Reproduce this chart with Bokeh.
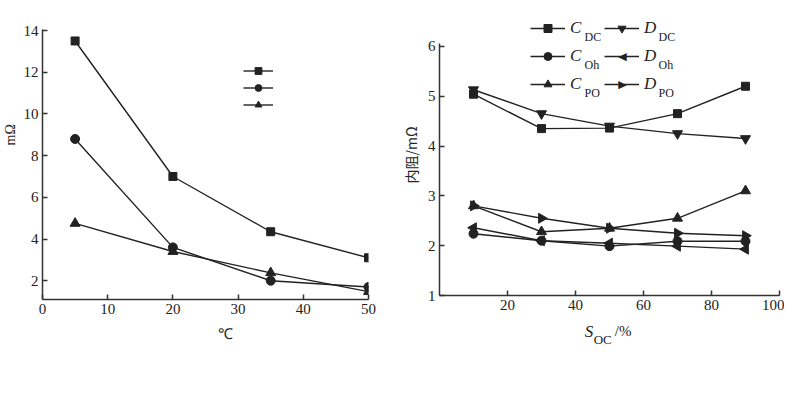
from bokeh.plotting import figure
from bokeh.layouts import row
from bokeh.models import FixedTicker, Range1d, Legend, LegendItem, Label, LinearAxis
from bokeh.embed import file_html
from bokeh.resources import INLINE

# ---------------- data: left chart (temperature) ----------------
temps = [5, 20, 35, 50]
r_square = [13.5, 7.0, 4.35, 3.1]
r_circle = [8.8, 3.6, 2.0, 1.7]
r_triangle = [4.75, 3.4, 2.38, 1.48]
left_xticks = [0, 10, 20, 30, 40, 50]
left_yticks = [2, 4, 6, 8, 10, 12, 14]

# ---------------- data: right chart (SOC) ----------------
soc = [10, 30, 50, 70, 90]
c_dc = [5.04, 4.35, 4.36, 4.65, 5.2]
d_dc = [5.13, 4.65, 4.4, 4.25, 4.15]
c_oh = [2.24, 2.1, 1.99, 2.09, 2.09]
d_oh = [2.36, 2.1, 2.05, 1.99, 1.93]
c_po = [2.8, 2.28, 2.35, 2.55, 3.1]
d_po = [2.8, 2.55, 2.35, 2.25, 2.2]
right_xticks = [20, 40, 60, 80, 100]
right_yticks = [1, 2, 3, 4, 5, 6]

INK = "#222222"
SERIF = "'Liberation Serif', serif"


def style(p):
    p.outline_line_color = None
    p.xgrid.visible = False
    p.ygrid.visible = False
    for ax in (p.xaxis[0], p.yaxis[0]):
        ax.axis_line_color = "#333333"
        ax.axis_line_width = 1.5
        ax.major_tick_in = 5
        ax.major_tick_out = 0
        ax.minor_tick_in = 0
        ax.minor_tick_out = 0
        ax.major_tick_line_color = "#333333"
        ax.major_tick_line_width = 1.5
        ax.major_label_text_font = SERIF
        ax.major_label_text_font_size = "15px"
        ax.major_label_text_color = INK
        ax.axis_label_text_font_style = "normal"
        ax.axis_label_text_color = INK
        ax.major_label_standoff = 4


def text_axis(p, side, pos, text, size, style_, standoff, font=SERIF, orientation="horizontal"):
    """An axis without line or ticks that only carries one piece of title text."""
    ax = LinearAxis(ticker=FixedTicker(ticks=[pos]), major_label_overrides={pos: text},
                    axis_line_color=None, major_tick_line_color=None,
                    minor_tick_line_color=None, major_tick_in=0, major_tick_out=0,
                    major_label_text_font=font, major_label_text_font_size=size,
                    major_label_text_font_style=style_, major_label_text_color=INK,
                    major_label_standoff=standoff, major_label_orientation=orientation)
    p.add_layout(ax, side)


# ---------------- left figure ----------------
p1 = figure(frame_width=326, frame_height=270, output_backend="svg", toolbar_location=None,
            x_range=Range1d(0, 50), y_range=Range1d(1.1, 14.05), frame_align=False,
            min_border_left=34, min_border_right=18, min_border_top=29, min_border_bottom=68)
style(p1)
p1.xaxis.ticker = FixedTicker(ticks=left_xticks)
p1.yaxis.ticker = FixedTicker(ticks=left_yticks)
# axis titles (placed off-centre as in the original)
text_axis(p1, "below", 28, "℃", "15px", "normal", 9)
text_axis(p1, "left", 9, "mΩ", "14px", "normal", 2, orientation="vertical")

items1 = []
for ys, mk, sz in ((r_square, "square", 8), (r_circle, "circle", 9), (r_triangle, "triangle", 10)):
    l = p1.line(temps, ys, line_color=INK, line_width=1.4)
    s = p1.scatter(temps, ys, marker=mk, size=sz, fill_color=INK, line_color=INK)
    items1.append(LegendItem(label=" ", renderers=[l, s]))

leg1 = Legend(items=items1, location=(201, 186), glyph_width=30, glyph_height=17,
              label_height=17, label_width=0, label_standoff=0, spacing=0, padding=0,
              margin=0, background_fill_alpha=0, border_line_color=None)
p1.add_layout(leg1)

# ---------------- right figure ----------------
# frame extends above the value 6 so that the legend sits inside it; the axis line stops at 6
p2 = figure(frame_width=340, frame_height=281, output_backend="svg", toolbar_location=None,
            x_range=Range1d(0, 100), y_range=Range1d(1, 6.64), frame_align=False,
            min_border_left=53, min_border_right=5, min_border_top=14, min_border_bottom=72)
style(p2)
p2.xaxis.ticker = FixedTicker(ticks=right_xticks)
p2.yaxis.ticker = FixedTicker(ticks=right_yticks)
p2.yaxis.bounds = (1, 6.06)
p2.yaxis.axis_label = "内阻/mΩ"
p2.yaxis.axis_label_text_font = "Noto Sans CJK SC"
p2.yaxis.axis_label_text_font_size = "14px"
p2.yaxis.axis_label_standoff = 4

series = [
    ("C", c_dc, "square", 8, 0.0, True),
    ("C", c_oh, "circle", 9, 0.0, True),
    ("C", c_po, "triangle", 10, 0.0, True),
    ("D", d_dc, "inverted_triangle", 10, 0.0, True),
    ("D", d_oh, "triangle", 10, 1.5708, False),
    ("D", d_po, "triangle", 10, -1.5708, False),
]
items2 = []
for lab, ys, mk, sz, ang, marker_in_legend in series:
    l = p2.line(soc, ys, line_color=INK, line_width=1.4)
    s = p2.scatter(soc, ys, marker=mk, size=sz, angle=ang, fill_color=INK, line_color=INK)
    items2.append(LegendItem(label=lab, renderers=[l, s] if marker_in_legend else [l]))

leg2 = Legend(items=items2, location=(91, 201), ncols=2, glyph_width=35, glyph_height=20,
              label_height=20, label_width=26, label_standoff=5, spacing=8, padding=0,
              margin=0, background_fill_alpha=0, border_line_color=None,
              label_text_font=SERIF, label_text_font_style="italic",
              label_text_font_size="17px", label_text_color=INK)
p2.add_layout(leg2)

# sideways triangles for the D_Oh / D_PO legend entries
for t, y in (("◀", 239), ("▶", 211)):
    p2.add_layout(Label(x=183, y=y, x_units="screen", y_units="screen", text=t,
                        text_font="DejaVu Sans", text_font_size="11px", text_align="center",
                        text_baseline="middle", text_color=INK))

subs = [("DC", 145, 259), ("Oh", 145, 231), ("PO", 145, 203),
        ("DC", 219, 259), ("Oh", 219, 231), ("PO", 219, 203)]
for t, x, y in subs:
    p2.add_layout(Label(x=x, y=y, x_units="screen", y_units="screen", text=t,
                        text_font=SERIF, text_font_size="12px", text_baseline="middle",
                        text_color=INK))

# x axis title  S_OC/%  built from three stacked text-only axes
text_axis(p2, "below", 44, "S", "17px", "italic", 9)
text_axis(p2, "below", 54, "/%", "15px", "normal", -21)
text_axis(p2, "below", 48, "OC", "13px", "normal", -12)

layout = row(p1, p2)
open("out.html", "w").write(file_html(layout, INLINE))
